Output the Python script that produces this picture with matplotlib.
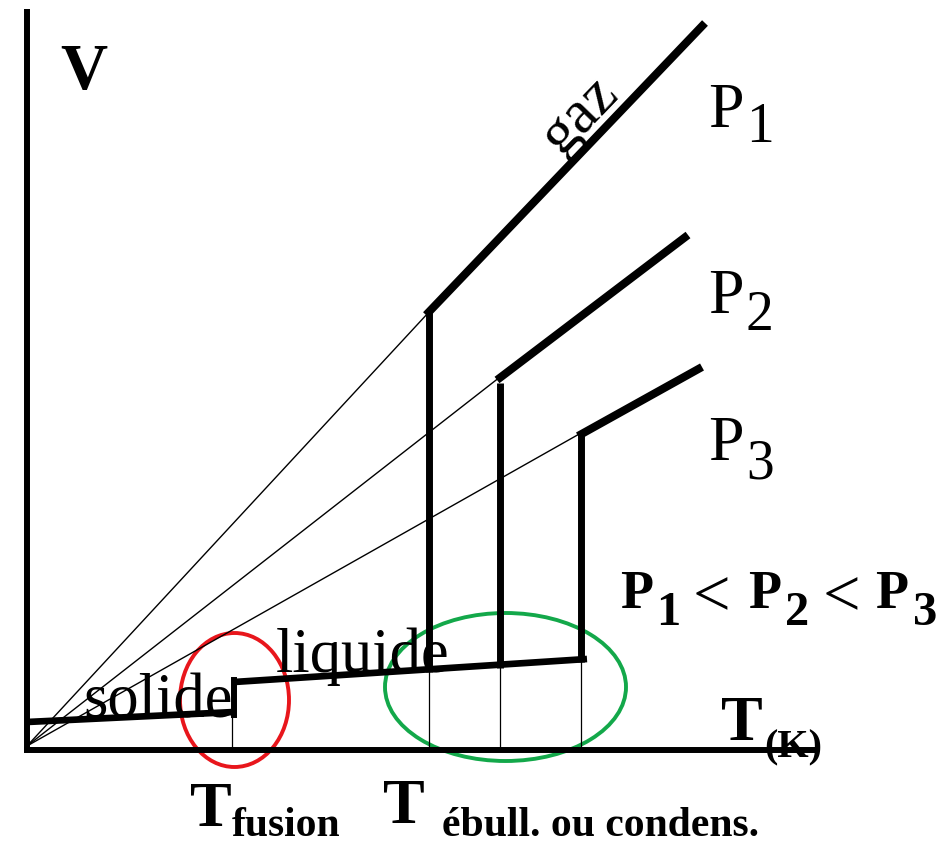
import matplotlib
matplotlib.use("Agg")
import matplotlib.pyplot as plt
from matplotlib.patches import Ellipse
import numpy as np

plt.rcParams.update({"font.family": "Liberation Serif"})

# schematic V(T) for three pressures (arbitrary units, origin at axes corner)
T_fusion = 207
solid_T = [0, 207]
solid_V = [28, 38]
liquid_T = [207, 560]
liquid_V = [68, 91]

T_boil = [402, 473, 554]          # P1, P2, P3
gas_start_V = [438, 373, 317]
vert_top_V = [438, 367, 317]
gas_end_T = [678, 661, 675]
gas_end_V = [727, 515, 383]
fan_origin = (0, 4)

pressure_labels = ["1", "2", "3"]

fig = plt.figure(figsize=(9.49, 8.46), dpi=100)
ax = fig.add_axes([0, 0, 1, 1])
ax.set_xlim(-27, 922)
ax.set_ylim(-96, 750)
ax.axis("off")

# axes
ax.plot([0, 0], [0, 741], color="black", lw=4.3, solid_capstyle="butt")
ax.plot([-3, 790], [0, 0], color="black", lw=4.3, solid_capstyle="butt")

# solid / liquid branches
ax.plot(solid_T, solid_V, color="black", lw=4.8, solid_capstyle="butt")
ax.plot([T_fusion, T_fusion], [solid_V[1] - 3, liquid_V[0] + 2], color="black", lw=4.3)
ax.plot(liquid_T, liquid_V, color="black", lw=4.8, solid_capstyle="butt")
ax.plot([T_fusion - 2, T_fusion - 2], [0, solid_V[1]], color="black", lw=0.9)

for i, Tb in enumerate(T_boil):
    v_liq = np.interp(Tb, liquid_T, liquid_V)
    # thin ideal-gas line from origin
    ax.plot([fan_origin[0], Tb], [fan_origin[1], gas_start_V[i]], color="black", lw=1.0)
    # thin drop line to the T axis
    ax.plot([Tb, Tb], [0, v_liq], color="black", lw=0.9)
    # boiling plateau
    ax.plot([Tb, Tb], [v_liq - 3, vert_top_V[i]], color="black", lw=5.0, solid_capstyle="butt")
    # gas branch
    ax.plot([Tb - 3, gas_end_T[i]], [gas_start_V[i] - 3, gas_end_V[i]],
            color="black", lw=5.8, solid_capstyle="butt")

# highlight ellipses
ax.add_patch(Ellipse((207.5, 50), 109, 134, fill=False, ec="#e8161c", lw=2.8))
ax.add_patch(Ellipse((478.5, 63), 241, 148, fill=False, ec="#13a84a", lw=2.8))

# labels (pixel-measured placement converted to data units)
def txt(x, y, s, size, weight="normal", **kw):
    ax.text(x - 27, 750 - y, s, fontsize=size, fontweight=weight,
            ha="left", va="baseline", **kw)

txt(60, 89, "V", 47, "bold")
ax.text(590 - 27, 750 - 125, "gaz", fontsize=44, rotation=46, rotation_mode="anchor",
        ha="center", va="baseline")

p_base = [127, 313, 460]
p_sub = [142, 330, 478]
for lab, yb, ys in zip(pressure_labels, p_base, p_sub):
    txt(708, yb, "P", 46)
    txt(746, ys, lab, 40)

ineq = [("P", 620, 608, 39, "bold"), ("1", 656, 625, 35, "bold"),
        ("<", 693, 616, 48, "normal"),
        ("P", 748, 608, 39, "bold"), ("2", 785, 625, 35, "bold"),
        ("<", 823, 616, 48, "normal"),
        ("P", 875, 608, 39, "bold"), ("3", 913, 625, 35, "bold")]
for s, x, y, size, w in ineq:
    txt(x, y, s, size, w)

txt(83, 717, "solide", 45)
txt(276, 672, "liquide", 45)

txt(190, 826, "T", 45, "bold")
txt(232, 836, "fusion", 30, "bold")
txt(383, 823, "T", 45, "bold")
txt(442, 836, "ébull. ou condens.", 30, "bold")
txt(721, 740, "T", 45, "bold")
txt(764, 757, "(K)", 29, "bold")

fig.savefig("out.png", dpi=100)
